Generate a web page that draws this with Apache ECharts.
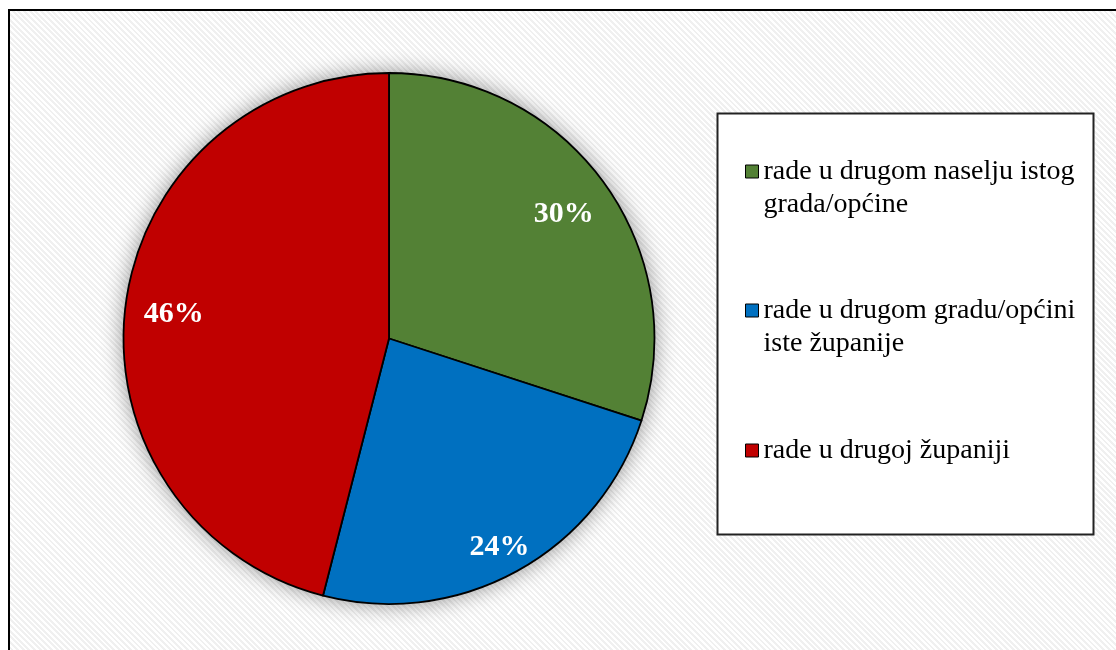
<!DOCTYPE html>
<html>
<head>
<meta charset="utf-8">
<script src="https://cdn.jsdelivr.net/npm/echarts@6/dist/echarts.min.js"></script>
<style>
  html, body { margin: 0; padding: 0; background: #ffffff; }
  #frame {
    position: absolute; left: 8px; top: 9px; width: 1200px; height: 720px;
    border-left: 2px solid #000; border-top: 2px solid #000;
    background: repeating-linear-gradient(45deg, #ffffff 0px, #ffffff 2px, #f0f0f0 2px, #f0f0f0 4px);
  }
  #chart { position: absolute; left: 0; top: 0; width: 1116px; height: 650px; }
</style>
</head>
<body>
<div id="frame"></div>
<div id="chart"></div>
<script>
const categories = [
  'rade u drugom naselju istog grada/općine',
  'rade u drugom gradu/općini iste županije',
  'rade u drugoj županiji'
];
const legendLabels = [
  '\nrade u drugom naselju istog\ngrada/općine',
  '\nrade u drugom gradu/općini\niste županije',
  'rade u drugoj županiji'
];
const values = [30, 24, 46];
const colors = ['#538135', '#0070C0', '#C00000'];

const chart = echarts.init(document.getElementById('chart'), null, { renderer: 'canvas' });

const CX = 389, CY = 338.5, R = 265.5, LABEL_R = 218;
const FONT = "'Liberation Serif', 'Times New Roman', serif";

const mainData = categories.map((c, i) => ({
  name: c, value: values[i], itemStyle: { color: colors[i] }
}));
// per-slice label nudges (gap line height shifts text down by half of it)
const labelGap = [12, 30, 6];
const labelPad = [[0, 8, 0, 0], [0, 0, 0, 8], [0, 0, 0, 8]];
const labelData = categories.map((c, i) => ({
  name: c,
  value: values[i],
  label: {
    formatter: '{gap| }\n{v|{d}%}',
    padding: labelPad[i],
    rich: {
      gap: { height: labelGap[i], lineHeight: labelGap[i], fontSize: 4 },
      v: {
        color: '#ffffff', fontFamily: FONT, fontWeight: 'bold',
        fontSize: 30, lineHeight: 30
      }
    }
  }
}));

const legendTops = [122, 261, 434];
const legends = categories.map((c, i) => ({
  show: true,
  data: [c],
  left: 745,
  top: legendTops[i],
  padding: 0,
  orient: 'vertical',
  icon: 'rect',
  itemWidth: 13,
  itemHeight: 13,
  itemStyle: { borderColor: '#000', borderWidth: 1 },
  selectedMode: false,
  formatter: name => legendLabels[categories.indexOf(name)],
  textStyle: {
    fontFamily: FONT, fontSize: 28, color: '#000', lineHeight: 33
  }
}));

chart.setOption({
  backgroundColor: 'transparent',
  animation: false,
  color: colors,
  legend: legends,
  graphic: [{
    type: 'rect',
    shape: { x: 717.5, y: 113.5, width: 376, height: 421 },
    style: { fill: '#ffffff', stroke: '#222', lineWidth: 2 },
    z: -1,
    silent: true
  }],
  series: [
    {
      type: 'pie',
      name: 'backing',
      silent: true,
      center: [CX, CY],
      radius: R,
      label: { show: false },
      labelLine: { show: false },
      emphasis: { disabled: true },
      itemStyle: {
        color: '#ffffff',
        shadowBlur: 22,
        shadowColor: 'rgba(0,0,0,0.45)'
      },
      data: [{ name: '__backing__', value: 1 }],
      z: 1
    },
    {
      type: 'pie',
      name: 'main',
      center: [CX, CY],
      radius: R,
      startAngle: 90,
      clockwise: true,
      label: { show: false },
      labelLine: { show: false },
      emphasis: { disabled: true },
      itemStyle: { borderColor: '#000', borderWidth: 1.8 },
      data: mainData,
      z: 2
    },
    {
      type: 'pie',
      name: 'labels',
      silent: true,
      center: [CX, CY],
      radius: [2 * LABEL_R - R, R],
      startAngle: 90,
      clockwise: true,
      itemStyle: { color: 'rgba(0,0,0,0)', borderWidth: 0 },
      emphasis: { disabled: true },
      labelLine: { show: false },
      label: {
        show: true,
        position: 'inside',
        color: '#ffffff',
        fontFamily: FONT,
        fontWeight: 'bold',
        fontSize: 30
      },
      data: labelData,
      z: 3
    }
  ]
});
</script>
</body>
</html>
